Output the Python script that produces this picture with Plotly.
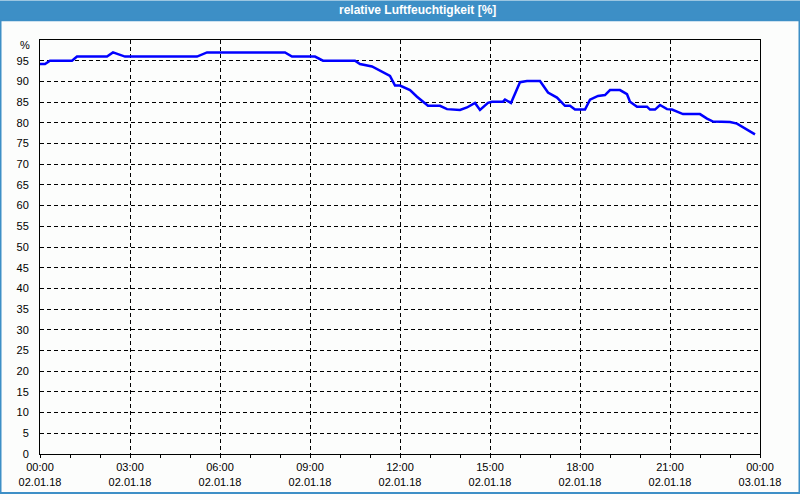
import plotly.graph_objects as go

# Data
times = ["00:00", "00:10", "00:20", "01:04", "01:14", "02:14", "02:26", "02:50",
         "05:14", "05:34", "08:10", "08:24", "09:10", "09:26", "10:30", "10:40",
         "11:04", "11:20", "11:40", "11:50", "12:00", "12:20", "12:34", "12:56",
         "13:20", "13:34", "14:00", "14:14", "14:30", "14:40", "14:56", "15:04",
         "15:26", "15:30", "15:42", "16:00", "16:14", "16:40", "16:56", "17:14",
         "17:30", "17:40", "17:50", "18:10", "18:20", "18:36", "18:50", "19:00",
         "19:20", "19:34", "19:40", "19:54", "20:14", "20:20", "20:30", "20:40",
         "20:54", "21:04", "21:20", "21:26", "22:00", "22:14", "22:26", "23:00",
         "23:14", "23:26", "23:50"]
humidity = [94.2, 94.2, 95.0, 95.0, 96.0, 96.0, 97.0, 96.0,
            96.0, 97.0, 97.0, 96.0, 96.0, 95.0, 95.0, 94.2,
            93.6, 92.6, 91.3, 89.0, 89.0, 87.9, 86.3, 84.1,
            84.1, 83.3, 83.1, 83.7, 84.8, 83.1, 84.8, 85.1,
            85.1, 85.6, 84.8, 89.8, 90.1, 90.1, 87.3, 86.1,
            84.1, 84.1, 83.2, 83.2, 85.6, 86.5, 86.7, 87.9,
            87.9, 86.9, 85.1, 83.9, 83.9, 83.2, 83.2, 84.3,
            83.3, 83.2, 82.5, 82.1, 82.1, 81.0, 80.3, 80.2,
            79.8, 79.0, 77.2]
y_ticks = list(range(0, 100, 5))
title_text = "relative Luftfeuchtigkeit [%]"
unit_label = "%"

x_vals = ["2018-01-02 " + t for t in times]

W, H = 800, 500
L, R, T, B = 40, 40, 40, 40
pw, ph = W - L - R, H - T - B


def px_x(p):
    return (p - L) / pw


def px_y(p):
    return (H - B - p) / ph


fig = go.Figure()
fig.add_trace(go.Scatter(x=x_vals, y=humidity, mode="lines",
                         line=dict(color="#0000ff", width=2.5),
                         hoverinfo="skip", showlegend=False))

font = dict(family="Liberation Sans, Arial, sans-serif", size=11, color="#000000")

fig.update_layout(
    width=W, height=H,
    margin=dict(l=L, r=R, t=T, b=B),
    paper_bgcolor="#fcfdfc", plot_bgcolor="#fcfdfc",
    font=font,
    xaxis=dict(
        type="date",
        range=["2018-01-02 00:00", "2018-01-03 00:00"],
        dtick=3 * 3600 * 1000, tick0="2018-01-02 00:00",
        tickformat="%H:%M<br>%d.%m.%y",
        showgrid=True, gridcolor="#000000", gridwidth=1, griddash="4px,3px",
        showline=True, linecolor="#000000", linewidth=1, mirror=True,
        ticks="outside", ticklen=3, tickcolor="#000000",
        minor=dict(dtick=3600 * 1000, ticks="outside", ticklen=3,
                   tickcolor="#000000", showgrid=False),
        zeroline=False, fixedrange=True,
    ),
    yaxis=dict(
        range=[0, 100],
        tickvals=y_ticks,
        showgrid=True, gridcolor="#000000", gridwidth=1, griddash="4px,3px",
        showline=True, linecolor="#000000", linewidth=1, mirror=True,
        ticks="", ticklabelstandoff=8,
        zeroline=False, fixedrange=True,
    ),
    shapes=[
        dict(type="rect", xref="paper", yref="paper",
             x0=px_x(0), x1=px_x(W), y0=px_y(20), y1=px_y(0),
             fillcolor="#3d8fc6", line=dict(width=0), layer="above"),
        dict(type="rect", xref="paper", yref="paper",
             x0=px_x(0.5), x1=px_x(W - 0.5), y0=px_y(H - 0.5), y1=px_y(20),
             fillcolor="rgba(0,0,0,0)", line=dict(color="#3d8fc6", width=2),
             layer="above"),
    ],
    annotations=[
        dict(text="<b>" + title_text + "</b>", xref="paper", yref="paper",
             x=px_x(417), y=px_y(10), xanchor="center", yanchor="middle",
             showarrow=False,
             font=dict(family="Liberation Sans, Arial, sans-serif", size=12,
                       color="#ffffff")),
        dict(text=unit_label, xref="paper", yref="paper",
             x=px_x(32), y=px_y(45), xanchor="right", yanchor="middle",
             showarrow=False, font=font),
    ],
)

fig.write_html("out.html")
